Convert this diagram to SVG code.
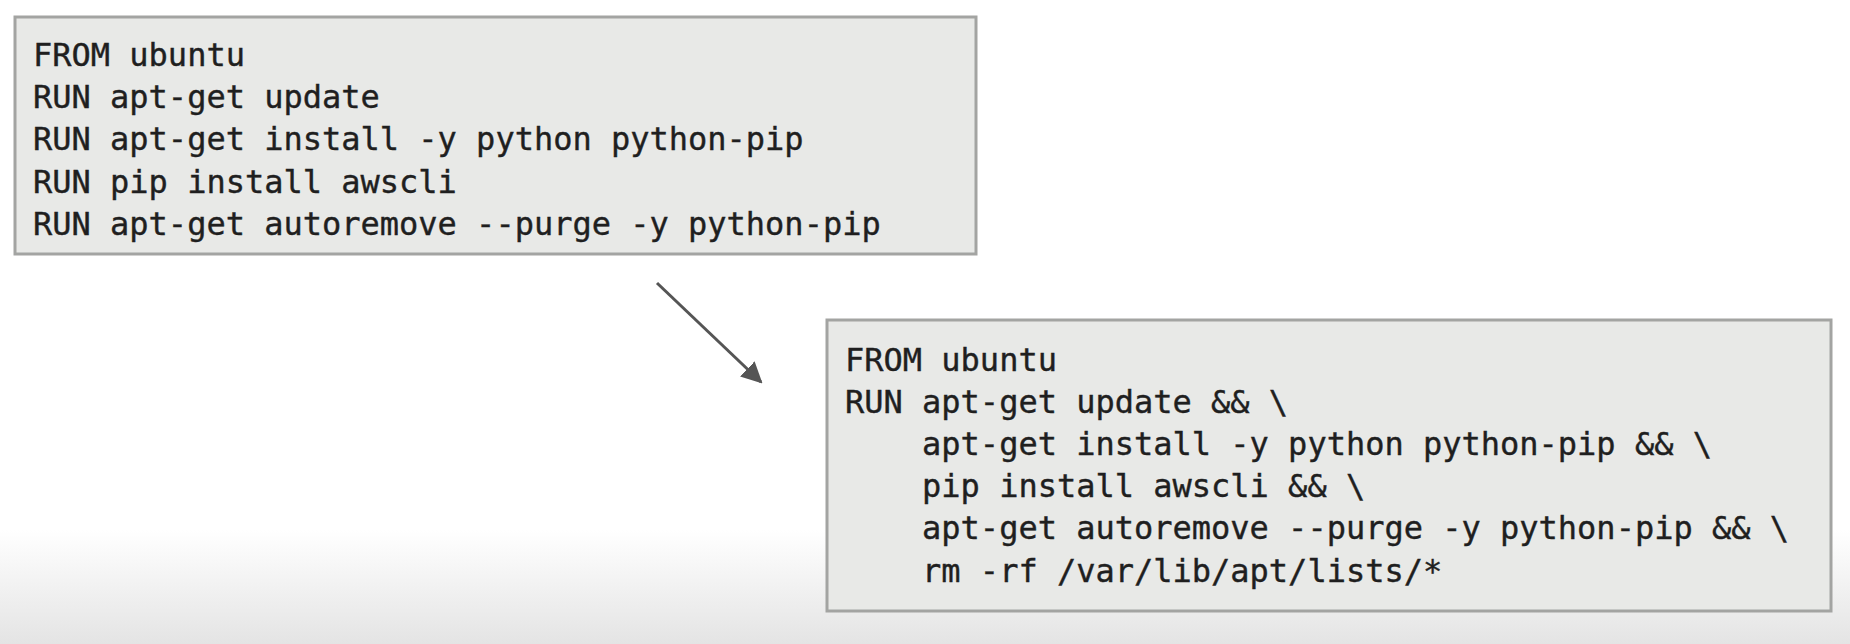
<svg xmlns="http://www.w3.org/2000/svg" width="1850" height="644" viewBox="0 0 1850 644">
<style>
.box{fill:#e8e9e7;stroke:#a3a4a2;stroke-width:3}
.code{font-family:"DejaVu Sans Mono","Liberation Mono",monospace;font-size:32px;fill:#1f1f1f;stroke:#1f1f1f;stroke-width:0.4;white-space:pre}
.conn{stroke:#555;stroke-width:3;fill:none}
</style>
<defs>
<linearGradient id="bg" x1="0" y1="0" x2="0" y2="1">
<stop offset="0" stop-color="#ffffff"/>
<stop offset="1" stop-color="#e4e4e4"/>
</linearGradient>
<marker id="ah" viewBox="0 0 10 10" refX="9" refY="5" markerWidth="7" markerHeight="7" orient="auto" markerUnits="strokeWidth">
<path d="M0,0 L10,5 L0,10 z" fill="#555"/>
</marker>
</defs>
<rect x="0" y="0" width="1850" height="644" fill="#fff"/>
<rect x="0" y="530" width="1850" height="114" fill="url(#bg)"/>
<g id="dockerfile-before">
<rect class="box" x="15" y="17" width="961" height="237"/>
<text class="code" x="33" y="66">FROM ubuntu</text>
<text class="code" x="33" y="108">RUN apt-get update</text>
<text class="code" x="33" y="150">RUN apt-get install -y python python-pip</text>
<text class="code" x="33" y="193">RUN pip install awscli</text>
<text class="code" x="33" y="235">RUN apt-get autoremove --purge -y python-pip</text>
</g>
<g id="dockerfile-after">
<rect class="box" x="827" y="320" width="1004" height="291"/>
<text class="code" x="845" y="371">FROM ubuntu</text>
<text class="code" x="845" y="413">RUN apt-get update &amp;&amp; \</text>
<text class="code" x="845" y="455">    apt-get install -y python python-pip &amp;&amp; \</text>
<text class="code" x="845" y="497">    pip install awscli &amp;&amp; \</text>
<text class="code" x="845" y="539">    apt-get autoremove --purge -y python-pip &amp;&amp; \</text>
<text class="code" x="845" y="582">    rm -rf /var/lib/apt/lists/*</text>
</g>
<g id="connectors">
<line class="conn" x1="657" y1="283" x2="761" y2="382" marker-end="url(#ah)"/>
</g>
</svg>
